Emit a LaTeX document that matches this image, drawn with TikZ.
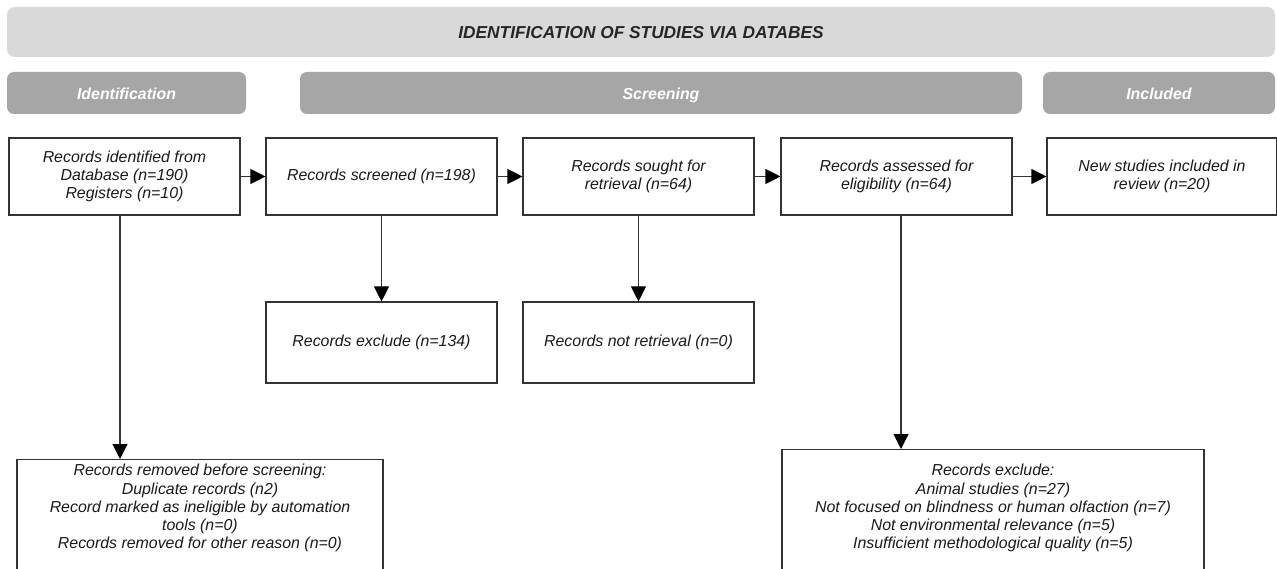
\documentclass[tikz,border=0pt]{standalone}
\usepackage{fontspec}
\setmainfont{Liberation Sans}
\usetikzlibrary{arrows.meta,calc}
\definecolor{titlegray}{HTML}{D9D9D9}
\definecolor{phasegray}{HTML}{A6A6A6}
\definecolor{linegray}{HTML}{333333}
\definecolor{textdark}{HTML}{1A1A1A}
\tikzset{
  box/.style={draw=linegray, line width=1.1pt, fill=white, minimum width=231pt,
    minimum height=77pt, inner sep=2pt, align=center, text=textdark,
    font=\fontsize{15.9}{18.3}\selectfont\itshape},
  frame/.style={draw=linegray, line width=1.1pt, fill=white, inner sep=0pt},
  bodytext/.style={align=center, inner sep=0pt, text=textdark,
    font=\fontsize{15.9}{18.3}\selectfont\itshape},
  phase/.style={fill=phasegray, rounded corners=7pt, text=white, inner sep=0pt,
    minimum height=42pt, text height=14pt, text depth=1pt,
    font=\fontsize{15.9}{19}\selectfont\bfseries\itshape},
  titlebar/.style={fill=titlegray, rounded corners=8pt, text=black!85, inner sep=0pt,
    minimum height=50pt, text height=15pt, text depth=1pt,
    font=\fontsize{17.3}{20}\selectfont\bfseries\itshape},
  arr/.style={draw=linegray, line width=1.1pt,
    -{Triangle[length=15pt,width=15pt,color=black,fill=black]}}
}
\begin{document}
\begin{tikzpicture}[x=1pt,y=-1pt]
\useasboundingbox (0,0) rectangle (1277,569);
\clip (0,0) rectangle (1277,569);
\fill[white] (0,0) rectangle (1277,569);

% header bars
\node[titlebar, minimum width=1268pt] (title) at (641,32) {IDENTIFICATION OF STUDIES VIA DATABES};
\node[phase, minimum width=239pt] (pid) at (126.5,93) {Identification};
\node[phase, minimum width=722pt] (pscr) at (661,93) {Screening};
\node[phase, minimum width=232pt] (pinc) at (1159,93) {Included};

% first row
\node[box] (b1) at (124.5,176.5) {Records identified from\\Database (n=190)\\Registers (n=10)};
\node[box] (b2) at (381.5,176.5) {Records screened (n=198)};
\node[box] (b3) at (638.5,176.5) {Records sought for\\retrieval (n=64)};
\node[box] (b4) at (896.5,176.5) {Records assessed for\\eligibility (n=64)};
\node[box, minimum width=230pt] (b5) at (1162,176.5) {New studies included in\\review (n=20)};

% second row
\node[box, minimum height=81pt] (b6) at (381.5,342.5) {Records exclude (n=134)};
\node[box, minimum height=81pt] (b7) at (638.5,342.5) {Records not retrieval (n=0)};

% bottom boxes
\node[frame, anchor=north, minimum width=366pt, minimum height=130pt] (rm) at (200,459) {};
\node[bodytext, anchor=north] (rmt) at (200,464) {Records removed before screening:\\Duplicate records (n2)\\Record marked as ineligible by automation\\tools (n=0)\\Records removed for other reason (n=0)};
\node[frame, anchor=north, minimum width=422pt, minimum height=140pt] (ex) at (993,449) {};
\node[bodytext, anchor=north] (ext) at (993,464) {Records exclude:\\Animal studies (n=27)\\Not focused on blindness or human olfaction (n=7)\\Not environmental relevance (n=5)\\Insufficient methodological quality (n=5)};

% connectors
\draw[arr] (b1) -- (b2);
\draw[arr] (b2) -- (b3);
\draw[arr] (b3) -- (b4);
\draw[arr] (b4) -- (b5);
\draw[arr] (b2) -- (b6);
\draw[arr] (b3) -- (b7);
\draw[arr] ([xshift=-4.5pt]b1.south) -- ([xshift=-4.5pt]b1.south |- rm.north);
\draw[arr] ([xshift=4.5pt]b4.south) -- ([xshift=4.5pt]b4.south |- ex.north);
\end{tikzpicture}
\end{document}
